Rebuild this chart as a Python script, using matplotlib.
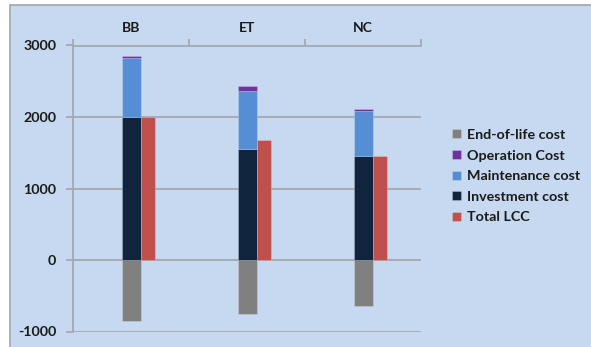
import matplotlib
matplotlib.use("Agg")
import matplotlib.pyplot as plt
from matplotlib.patches import Rectangle
import numpy as np

categories = ["BB", "ET", "NC"]
investment = [2000, 1550, 1450]
maintenance = [820, 820, 630]
operation = [40, 60, 30]
end_of_life = [-850, -750, -650]
total_lcc = [2000, 1680, 1450]
y_ticks = [-1000, 0, 1000, 2000, 3000]

BG = "#C6D9F0"
GRID = "#A3A9B1"
C_EOL = "#808080"
C_OP = "#7030A0"
C_MAINT = "#558ED5"
C_INV = "#10243E"
C_TOT = "#C0504D"

plt.rcParams['font.family'] = ['Lato', 'DejaVu Sans']

W, H = 591, 347
fig = plt.figure(figsize=(W / 100, H / 100), dpi=100, facecolor="white")
fig.patches.append(Rectangle((10 / W, -0.01), 1.02, 1 - 5 / H + 0.01, transform=fig.transFigure,
                             facecolor=BG, edgecolor="#A6A6A6", linewidth=1.2, zorder=-10))

ax = fig.add_axes([73 / W, 1 - 331.5 / H, (421 - 73) / W, (331.5 - 45.5) / H])
ax.set_facecolor(BG)
ax.patch.set_alpha(0)

x = np.arange(len(categories))
sw = 0.165
tw = 0.12
s_left = x + 0.42
t_left = x + 0.42 + sw

ekw = dict(edgecolor=(1, 1, 1, 0.25), linewidth=0.6, align="edge", zorder=3)
b_eol = ax.bar(s_left, end_of_life, sw, color=C_EOL, **ekw)
b_inv = ax.bar(s_left, investment, sw, color=C_INV, **ekw)
b_maint = ax.bar(s_left, maintenance, sw, bottom=investment, color=C_MAINT, **ekw)
bot2 = [a + b for a, b in zip(investment, maintenance)]
b_op = ax.bar(s_left, operation, sw, bottom=bot2, color=C_OP, **ekw)
b_tot = ax.bar(t_left, total_lcc, tw, color=C_TOT, **ekw)

ax.set_xlim(0, len(categories))
ax.set_ylim(-1000, 3000)
ax.set_yticks(y_ticks)
ax.set_yticklabels([str(v) for v in y_ticks])
ax.grid(axis="y", color=GRID, linewidth=1.3, zorder=1)
ax.set_axisbelow(True)

for s in ["right", "bottom"]:
    ax.spines[s].set_visible(False)
for s in ["left", "top"]:
    ax.spines[s].set_color(GRID)
    ax.spines[s].set_linewidth(1.3)

ax.xaxis.tick_top()
ax.set_xticks(np.arange(len(categories) + 1))
ax.set_xticklabels([])
ax.set_xticks(x + 0.5, minor=True)
ax.set_xticklabels(categories, minor=True, fontsize=10, fontweight="bold", color="#1a1a1a")
ax.tick_params(axis="x", which="major", length=5, width=1.3, color=GRID, direction="out")
ax.tick_params(axis="x", which="minor", length=0, pad=8)
ax.tick_params(axis="y", length=5, width=1.3, color=GRID, direction="out", pad=7,
               labelsize=10.3, labelcolor="#1a1a1a")
for t in ax.get_yticklabels():
    t.set_fontweight("bold")

handles = [b_eol, b_op, b_maint, b_inv, b_tot]
labels = ["End-of-life cost", "Operation Cost", "Maintenance cost", "Investment cost", "Total LCC"]
leg = fig.legend(handles, labels, loc="upper left", bbox_to_anchor=(452 / W, 1 - 129 / H),
                 frameon=False, fontsize=10.3, handlelength=0.6, handleheight=0.6,
                 handletextpad=0.45, labelspacing=0.6, borderaxespad=0, borderpad=0)
for t in leg.get_texts():
    t.set_fontweight("bold")
    t.set_color("#1a1a1a")

fig.savefig("out.png", dpi=100, facecolor="white")
